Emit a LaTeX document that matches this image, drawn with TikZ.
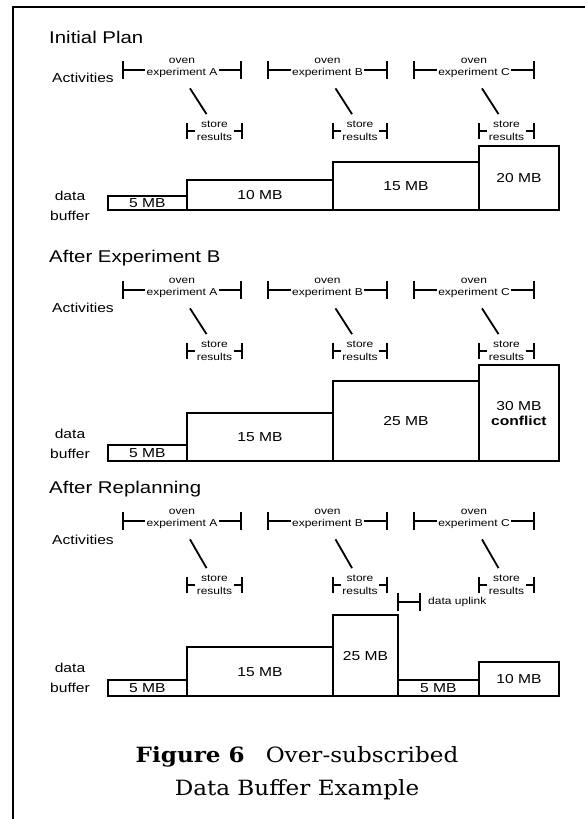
\documentclass[tikz,border=0pt]{standalone}
\usepackage{fontspec}
\setmainfont{Liberation Sans}[FakeStretch=1.2]
\newfontfamily\capfont{DejaVu Serif}[FakeStretch=1.1]
\usetikzlibrary{arrows.meta}

\begin{document}
\begin{tikzpicture}[x=1pt, y=-1pt, line width=1.8pt,
  every node/.style={font=\fontsize{13}{15}\selectfont},
  title/.style={anchor=base west, font=\fontsize{17}{20}\selectfont},
  rowlabel/.style={anchor=base west},
  buflabel/.style={align=center, font=\fontsize{13}{20}\selectfont},
  actbar/.style={{Bar[width=18pt]}-{Bar[width=18pt]}},
  stbar/.style={{Bar[width=16pt]}-{Bar[width=16pt]}},
  actlabel/.style={fill=white, inner sep=1.5pt, align=center, yshift=2pt, font=\fontsize{10}{12.5}\selectfont},
  stlabel/.style={fill=white, inner sep=1.5pt, align=center, font=\fontsize{10}{12.5}\selectfont},
  buf/.style={draw, anchor=south west, inner sep=0pt, align=center}]
\useasboundingbox (0,0) rectangle (585,819);
\draw[line width=2pt] (13,819) -- (13,7) -- (585,7);

\node[title] (t1) at (45,43) {Initial Plan};
\node[rowlabel] (act1) at (48,82) {Activities};
\draw[actbar] (122,70) -- node[actlabel] (ovA1) {oven\\experiment A} (242,70);
\draw[actbar] (267,70) -- node[actlabel] (ovB1) {oven\\experiment B} (388,70);
\draw[actbar] (413,70) -- node[actlabel] (ovC1) {oven\\experiment C} (535,70);
\draw[stbar] (186,131) -- node[stlabel] (stA1) {store\\results} (243,131);
\draw[stbar] (332,131) -- node[stlabel] (stB1) {store\\results} (388,131);
\draw[stbar] (478,131) -- node[stlabel] (stC1) {store\\results} (535,131);
\draw ([xshift=8pt,yshift=-8pt]ovA1.south) -- ([xshift=-8pt,yshift=5pt]stA1.north);
\draw ([xshift=8pt,yshift=-8pt]ovB1.south) -- ([xshift=-8pt,yshift=5pt]stB1.north);
\draw ([xshift=8pt,yshift=-8pt]ovC1.south) -- ([xshift=-8pt,yshift=5pt]stC1.north);
\node[buflabel] (db1) at (70,205.5) {data\\buffer};
\node[buf, minimum width=79pt, minimum height=14pt] (b1a) at (107,211) {5 MB};
\node[buf, minimum width=146pt, minimum height=30pt] (b1b) at (186,211) {10 MB};
\node[buf, minimum width=146pt, minimum height=48pt] (b1c) at (332,211) {15 MB};
\node[buf, minimum width=80pt, minimum height=64pt] (b1d) at (478,211) {20 MB};

\node[title] (t2) at (45,262) {After Experiment B};
\node[rowlabel] (act2) at (48,312) {Activities};
\draw[actbar] (122,290) -- node[actlabel] (ovA2) {oven\\experiment A} (242,290);
\draw[actbar] (267,290) -- node[actlabel] (ovB2) {oven\\experiment B} (388,290);
\draw[actbar] (413,290) -- node[actlabel] (ovC2) {oven\\experiment C} (535,290);
\draw[stbar] (186,351) -- node[stlabel] (stA2) {store\\results} (243,351);
\draw[stbar] (332,351) -- node[stlabel] (stB2) {store\\results} (388,351);
\draw[stbar] (478,351) -- node[stlabel] (stC2) {store\\results} (535,351);
\draw ([xshift=8pt,yshift=-8pt]ovA2.south) -- ([xshift=-8pt,yshift=5pt]stA2.north);
\draw ([xshift=8pt,yshift=-8pt]ovB2.south) -- ([xshift=-8pt,yshift=5pt]stB2.north);
\draw ([xshift=8pt,yshift=-8pt]ovC2.south) -- ([xshift=-8pt,yshift=5pt]stC2.north);
\node[buflabel] (db2) at (70,444) {data\\buffer};
\node[buf, minimum width=79pt, minimum height=16pt] (b2a) at (107,462) {5 MB};
\node[buf, minimum width=146pt, minimum height=48pt] (b2b) at (186,462) {15 MB};
\node[buf, minimum width=146pt, minimum height=80pt] (b2c) at (332,462) {25 MB};
\node[buf, minimum width=80pt, minimum height=96pt] (b2d) at (478,462) {30 MB\\\textbf{conflict}};

\node[title] (t3) at (45,493) {After Replanning};
\node[rowlabel] (act3) at (48,544) {Activities};
\draw[actbar] (122,521) -- node[actlabel] (ovA3) {oven\\experiment A} (242,521);
\draw[actbar] (267,521) -- node[actlabel] (ovB3) {oven\\experiment B} (388,521);
\draw[actbar] (413,521) -- node[actlabel] (ovC3) {oven\\experiment C} (535,521);
\draw[stbar] (186,585) -- node[stlabel] (stA3) {store\\results} (243,585);
\draw[stbar] (332,585) -- node[stlabel] (stB3) {store\\results} (388,585);
\draw[stbar] (478,585) -- node[stlabel] (stC3) {store\\results} (535,585);
\draw ([xshift=8pt,yshift=-8pt]ovA3.south) -- ([xshift=-8pt,yshift=5pt]stA3.north);
\draw ([xshift=8pt,yshift=-8pt]ovB3.south) -- ([xshift=-8pt,yshift=5pt]stB3.north);
\draw ([xshift=8pt,yshift=-8pt]ovC3.south) -- ([xshift=-8pt,yshift=5pt]stC3.north);
\draw[actbar] (397,602) -- (421,602);
\node[anchor=west, font=\fontsize{10}{12}\selectfont] (upl) at (424,602) {data uplink};
\node[buflabel] (db3) at (70,678) {data\\buffer};
\node[buf, minimum width=79pt, minimum height=16pt] (b3a) at (107,697) {5 MB};
\node[buf, minimum width=146pt, minimum height=49pt] (b3b) at (186,697) {15 MB};
\node[buf, minimum width=65pt, minimum height=81pt] (b3c) at (332,697) {25 MB};
\node[buf, minimum width=81pt, minimum height=16pt] (b3d) at (397,697) {5 MB};
\node[buf, minimum width=80pt, minimum height=34pt] (b3e) at (478,697) {10 MB};

\node[align=center, font=\capfont\fontsize{21}{33}\selectfont] (cap) at (297,773) {\textbf{Figure 6}\quad Over-subscribed\\Data Buffer Example};
\end{tikzpicture}
\end{document}
